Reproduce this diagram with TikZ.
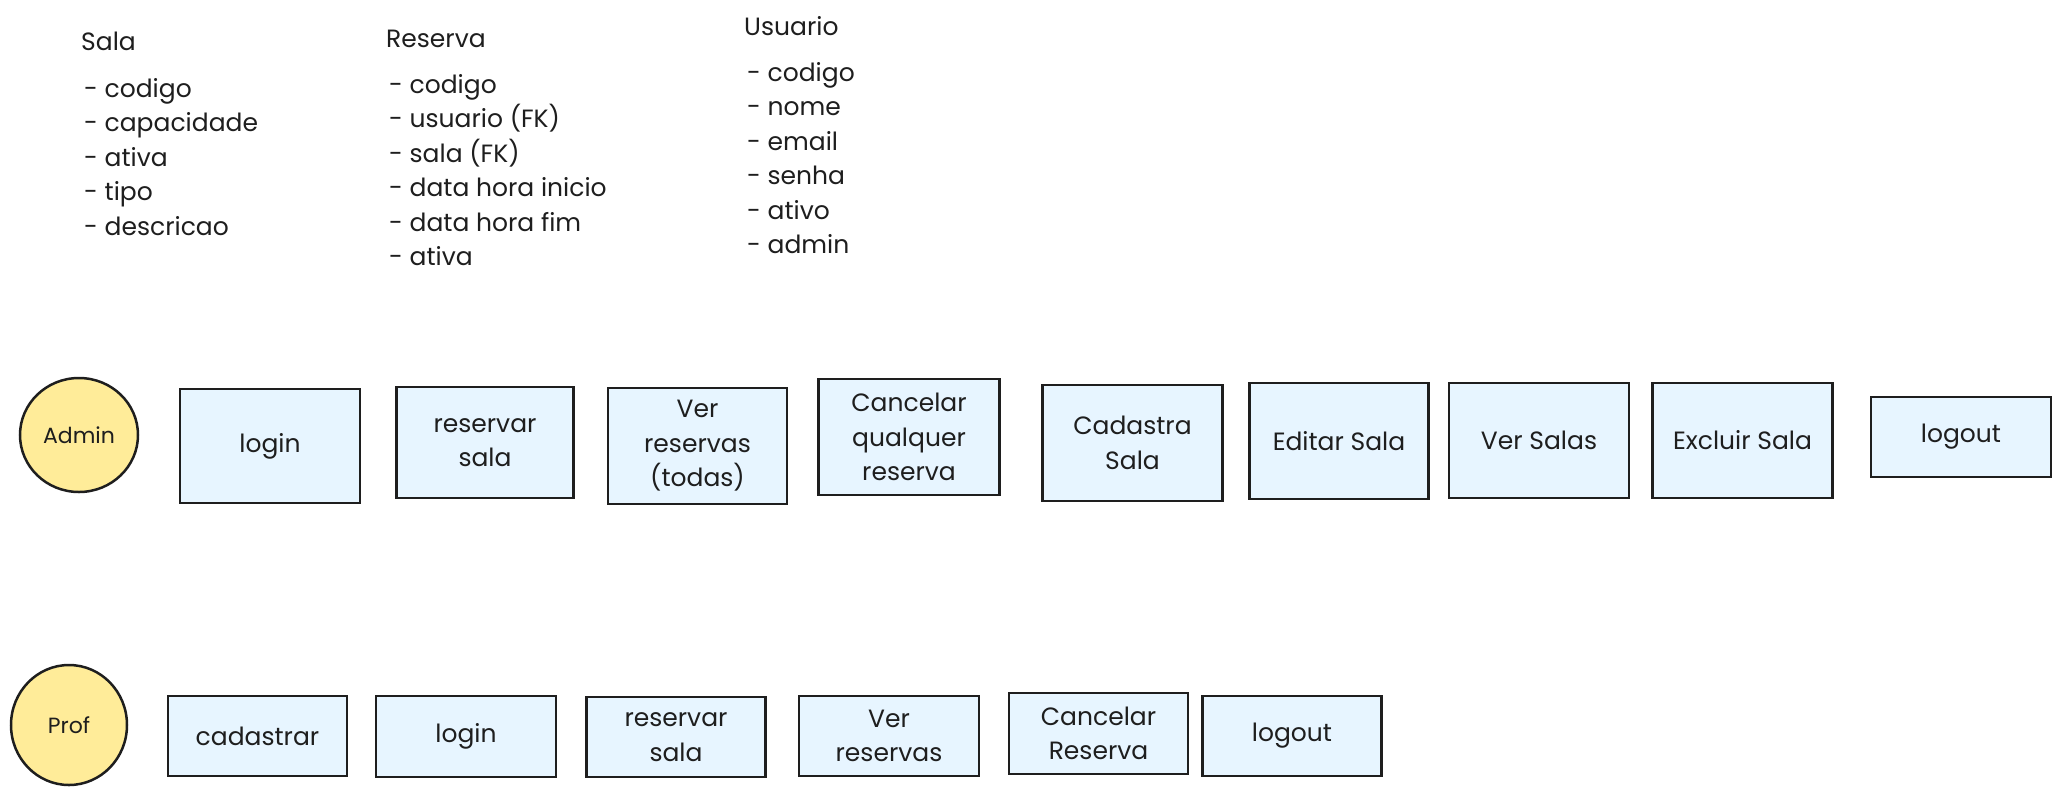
\documentclass[tikz,border=0pt]{standalone}
\usepackage{fontspec}
\setmainfont{Poppins}
\definecolor{ink}{HTML}{1E1E1E}
\definecolor{boxfill}{HTML}{E7F5FF}
\definecolor{actorfill}{HTML}{FFEC99}
\usetikzlibrary{shapes.geometric}
\tikzset{
  txt/.style={font=\fontsize{25}{34.5}\selectfont, text=ink},
  box/.style={draw=ink, line width=2.5pt, fill=boxfill, align=center, inner sep=2pt,
     font=\fontsize{25}{34.5}\selectfont, text=ink},
  actor/.style={draw=ink, line width=2.5pt, fill=actorfill, ellipse, inner sep=0pt,
     font=\fontsize{22}{26}\selectfont, text=ink},
  lbl/.style={txt, anchor=base west, inner sep=0pt}
}
\begin{document}
\begin{tikzpicture}[x=1pt,y=-1pt]
\useasboundingbox[fill=white] (0,0) rectangle (2061,793);
% entity lists
\node[lbl] (salaH) at (81,50) {Sala};
\foreach \t [count=\i] in {codigo,capacidade,ativa,tipo,descricao}
  \node[lbl] (sala\i) at (84,{97+34.5*(\i-1)}) {- \t};
\node[lbl] (resH) at (386,47) {Reserva};
\foreach \t [count=\i] in {codigo,usuario (FK),sala (FK),data hora inicio,data hora fim,ativa}
  \node[lbl] (res\i) at (389,{93+34.5*(\i-1)}) {- \t};
\node[lbl] (usuH) at (744,35) {Usuario};
\foreach \t [count=\i] in {codigo,nome,email,senha,ativo,admin}
  \node[lbl] (usu\i) at (747,{81+34.5*(\i-1)}) {- \t};
% Admin row
\node[actor, minimum width=118pt, minimum height=114pt] (admin) at (79,435) {Admin};
\node[box, minimum width=180pt, minimum height=114pt] (aLogin) at (270,446) {login};
\node[box, minimum width=177pt, minimum height=111pt] (aReservar) at (485,442.5) {reservar\\sala};
\node[box, minimum width=179pt, minimum height=116pt] (aVer) at (697.5,446) {Ver\\reservas\\(todas)};
\node[box, minimum width=181pt, minimum height=116pt] (aCancelar) at (909,437) {Cancelar\\qualquer\\reserva};
\node[box, minimum width=180pt, minimum height=116pt] (aCadastra) at (1132.5,443) {Cadastra\\Sala};
\node[box, minimum width=179pt, minimum height=116pt] (aEditar) at (1339,441) {Editar Sala};
\node[box, minimum width=180pt, minimum height=115pt] (aVerSalas) at (1539,440.5) {Ver Salas};
\node[box, minimum width=180pt, minimum height=115pt] (aExcluir) at (1742.5,440.5) {Excluir Sala};
\node[box, minimum width=180pt, minimum height=80pt] (aLogout) at (1961,437) {logout};
% Prof row
\node[actor, minimum width=116pt, minimum height=120pt] (prof) at (69,725) {Prof};
\node[box, minimum width=179pt, minimum height=80pt] (pCadastrar) at (257.5,736) {cadastrar};
\node[box, minimum width=180pt, minimum height=81pt] (pLogin) at (466,736.5) {login};
\node[box, minimum width=179pt, minimum height=80pt] (pReservar) at (676,737) {reservar\\sala};
\node[box, minimum width=180pt, minimum height=80pt] (pVer) at (889,736) {Ver\\reservas};
\node[box, minimum width=179pt, minimum height=81pt] (pCancelar) at (1098.5,733.5) {Cancelar\\Reserva};
\node[box, minimum width=179pt, minimum height=80pt] (pLogout) at (1292,736) {logout};
\end{tikzpicture}
\end{document}
